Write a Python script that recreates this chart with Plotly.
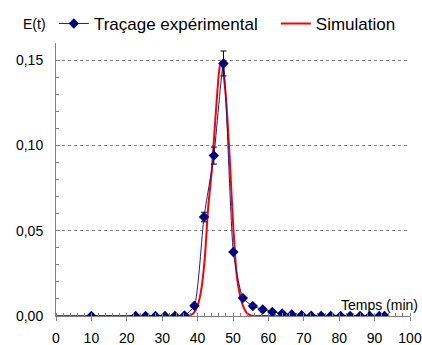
import plotly.graph_objects as go

# experimental tracer data (min, E(t))
t_exp = [10, 22.5, 25.3, 28.1, 30.8, 33.6, 36.3, 39.1, 41.8, 44.6, 47.3, 50.1, 52.8,
         55.6, 58.4, 61.1, 63.9, 66.6, 69.4, 72.1, 74.9, 77.6, 80.4, 83.1, 85.9,
         88.6, 91.3, 92.8]
e_exp = [0, 0, 0, 0, 0, 0, 0.0003, 0.006, 0.058, 0.094, 0.148, 0.0375, 0.0105,
         0.0058, 0.0038, 0.0024, 0.0015, 0.0009, 0.0004, 0.0002, 0.0001, 0.0001, 0,
         0, 0, 0, 0, 0]
err_exp = [None, None, None, None, None, None, None, None, 0.0028, 0.005, 0.0073,
           None, None, None, None, None, None, None, None, None, None, None, None,
           None, None, None, None, None]

# simulated curve
t_sim = [0, 10, 20, 30, 35, 37, 38, 39, 40, 41, 42, 43, 44, 45, 46, 46.5, 47,
         48, 49, 50, 51, 52, 53, 54, 55, 56, 58, 60, 70, 80, 93]
e_sim = [0, 0, 0, 0, 0, 0, 0.0005, 0.002, 0.006, 0.015, 0.033, 0.064, 0.085,
         0.115, 0.142, 0.149, 0.146, 0.128, 0.095, 0.055, 0.025, 0.012, 0.005,
         0.0015, 0.0004, 0, 0, 0, 0, 0, 0]

fig = go.Figure()
fig.add_trace(go.Scatter(
    x=t_sim, y=e_sim, name="Simulation", mode="lines", legend="legend2",
    line=dict(color="#ff0000", width=2, shape="spline", smoothing=0.6)))
fig.add_trace(go.Scatter(
    x=t_exp, y=e_exp, name="Traçage expérimental", mode="lines+markers",
    line=dict(color="#1c1c8c", width=1, shape="spline", smoothing=0.5),
    marker=dict(symbol="diamond", size=8, color="#000080"),
    error_y=dict(type="data", array=err_exp, color="black", thickness=1, width=3)))

legend_style = dict(orientation="h", xanchor="left",
                    y=1.07, yanchor="middle", font=dict(size=17),
                    bgcolor="rgba(0,0,0,0)")
fig.update_layout(
    width=422, height=345,
    margin=dict(l=56, r=12, t=43, b=29, autoexpand=False),
    paper_bgcolor="white", plot_bgcolor="white",
    separators=", ",
    font=dict(family="Liberation Sans, Arial, sans-serif", size=14, color="black"),
    showlegend=True,
    legend=dict(x=-0.006, **legend_style),
    legend2=dict(x=0.621, **legend_style),
    annotations=[
        dict(text="E(t)", xref="paper", yref="paper", x=-0.024, y=1.07,
             xanchor="right", yanchor="middle", showarrow=False, font=dict(size=14)),
        dict(text="Temps (min)", xref="paper", yref="paper", x=1.028, y=0.005,
             xanchor="right", yanchor="bottom", showarrow=False, font=dict(size=14)),
    ],
)
fig.update_xaxes(range=[0, 100], dtick=10, showgrid=False, zeroline=False,
                 automargin=False,
                 showline=True, linecolor="#808080", linewidth=1,
                 ticks="outside", ticklen=4, tickcolor="#808080", ticklabelstandoff=5,
                 minor=dict(dtick=2, ticks="inside", ticklen=3, tickcolor="#808080"))
fig.update_yaxes(range=[0, 0.16], dtick=0.05, tickformat=".2f",
                 automargin=False,
                 showgrid=True, gridcolor="#808080", griddash="dot", gridwidth=1,
                 zeroline=False, showline=True, linecolor="#808080", linewidth=1,
                 ticks="inside", ticklen=4, tickcolor="#808080", ticklabelstandoff=9,
                 minor=dict(dtick=0.01, ticks="inside", ticklen=3, tickcolor="#808080"))

# drop the default page margin so the figure sits at the window's corner
fig.write_html("out.html", config={"displayModeBar": False},
               post_script="document.body.style.margin='0';")
